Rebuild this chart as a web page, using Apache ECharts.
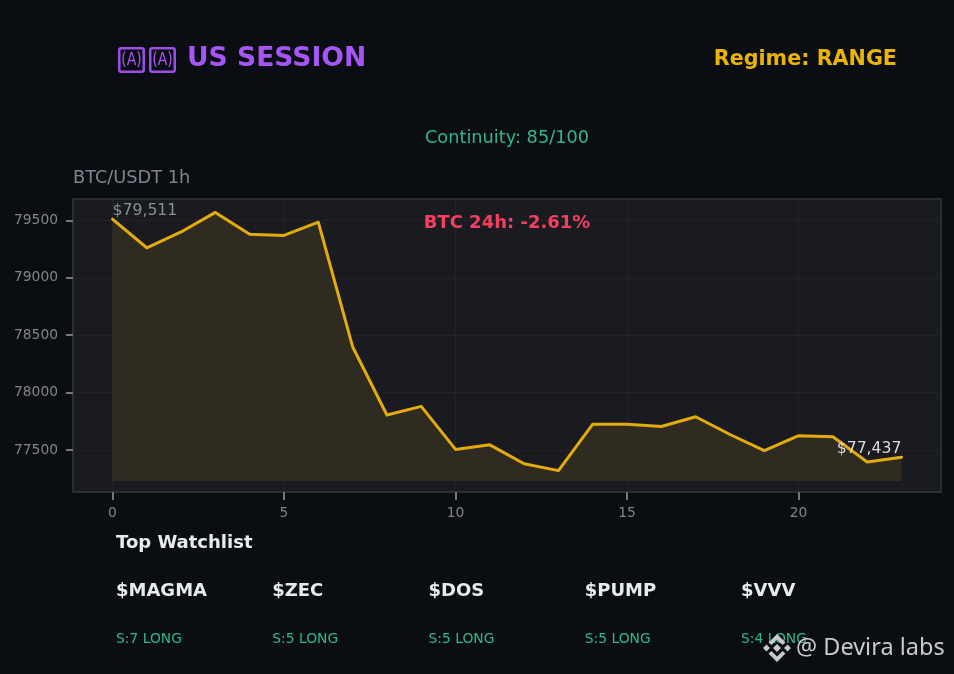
<!DOCTYPE html>
<html><head><meta charset="utf-8">
<style>html,body{margin:0;padding:0;background:#0a0e12}#c{width:954px;height:674px}</style>
<script src="https://cdn.jsdelivr.net/npm/echarts@6/dist/echarts.min.js"></script></head>
<body><div id="c"></div>
<script>
const hours=[0,1,2,3,4,5,6,7,8,9,10,11,12,13,14,15,16,17,18,19,20,21,22,23];
const prices=[79511,79262,79400,79570,79380,79370,79485,78400,77805,77880,77505,77545,77380,77320,77725,77725,77705,77790,77635,77495,77625,77615,77395,77437];
const xTicks=[0,5,10,15,20];
const yTicks=[77500,78000,78500,79000,79500];
const watchSymbols=['$MAGMA','$ZEC','$DOS','$PUMP','$VVV'];
const watchSignals=['S:7 LONG','S:5 LONG','S:5 LONG','S:5 LONG','S:4 LONG'];
const F='"DejaVu Sans"';
const fillBase=77230;
const chart=echarts.init(document.getElementById('c'),null,{renderer:'canvas'});
const money=v=>'$'+v.toLocaleString('en-US');
const txt=(x,y,text,size,fill,weight,extra)=>({type:'text',x,y,z:20,silent:true,
  style:Object.assign({text,x:0,y:0,fill,font:(weight||'normal')+' '+size+'px '+F,verticalAlign:'middle',align:'left'},extra||{})});
const gfx=[
 txt(187,59.5,'US SESSION',26.6,'#a855f7','bold'),
 txt(897,60,'Regime: RANGE',20.7,'#eab308','bold',{align:'right'}),
 txt(507,138,'Continuity: 85/100',17.75,'#2fb98a','normal',{align:'center'}),
 txt(73,178,'BTC/USDT 1h',17.75,'#80858d'),
 txt(507,223,'BTC 24h: -2.61%',18,'#f43f5e','bold',{align:'center'}),
 txt(116,543,'Top Watchlist',18,'#e9eaed','bold')
];
// missing-glyph boxes in front of the title
[118,149].forEach(x=>{
 gfx.push({type:'rect',z:20,silent:true,shape:{x:x+1.25,y:48.25,width:24.5,height:23.5,r:2},style:{fill:'none',stroke:'#9a4fe6',lineWidth:2.5}});
 const a=txt(x+13.5,60.5,'(A)',18,'#a855f7','normal',{align:'center'});
 a.scaleX=0.78;
 gfx.push(a);
});
watchSymbols.forEach((s,i)=>{
 const x=116+i*156.25;
 gfx.push(txt(x,591,s,18,'#e9eaed','bold'));
 gfx.push(txt(x,639,watchSignals[i],13.85,'#2fb98a'));
});
// watermark
const wm='#c6c9ce';
const poly=(pts)=>({type:'polygon',z:30,silent:true,shape:{points:pts},style:{fill:wm}});
const cx=777,cy=648;
const diamond=(x,y,r)=>poly([[x,y-r],[x+r,y],[x,y+r],[x-r,y]]);
gfx.push(diamond(cx,cy,4),diamond(cx-10.5,cy,3.5),diamond(cx+10.5,cy,3.5));
gfx.push(poly([[cx,cy-14],[cx+8.5,cy-5.5],[cx+5.5,cy-3],[cx,cy-8.5],[cx-5.5,cy-3],[cx-8.5,cy-5.5]]));
gfx.push(poly([[cx,cy+14],[cx+8.5,cy+5.5],[cx+5.5,cy+3],[cx,cy+8.5],[cx-5.5,cy+3],[cx-8.5,cy+5.5]]));
gfx.push(txt(796,648,'@ Devira labs',23.5,wm,'normal',{font:'23.5px "Noto Sans"'}));
gfx[gfx.length-1].z=30;

const labelFor=i=>{
 if(i===0) return {show:true,position:[0,-16],align:'left',verticalAlign:'top',formatter:money(prices[0]),color:'#8a8e95',fontSize:15.7,fontFamily:F};
 if(i===hours.length-1) return {show:true,position:[0,-16],align:'right',verticalAlign:'top',formatter:money(prices[i]),color:'#d8dade',fontSize:15.7,fontFamily:F};
 return {show:false};
};
chart.setOption({
 animation:false,
 backgroundColor:'#0a0e12',
 grid:{left:73,top:199,width:868,height:293,show:true,backgroundColor:'#1a1b21',borderColor:'#2a2d36',borderWidth:2},
 xAxis:{type:'value',min:-1.15,max:24.15,
  axisLine:{show:false,onZero:false},
  axisTick:{show:true,customValues:xTicks,length:8,lineStyle:{color:'#74777d',width:2}},
  axisLabel:{customValues:xTicks,color:'#808389',fontSize:13.85,fontFamily:F,margin:14},
  splitLine:{show:true,lineStyle:{color:'#222329',width:1}}},
 yAxis:{type:'value',min:77134,max:79687,
  axisLine:{show:false,onZero:false},
  axisTick:{show:true,customValues:yTicks,length:7,lineStyle:{color:'#74777d',width:2}},
  axisLabel:{customValues:yTicks,color:'#808389',fontSize:13.85,fontFamily:F,margin:15,formatter:v=>String(v)},
  splitLine:{show:true,lineStyle:{color:'#222329',width:1}}},
 series:[{type:'line',showSymbol:true,symbol:'circle',symbolSize:0,smooth:false,clip:false,
  data:hours.map((h,i)=>({value:[h,prices[i]],label:labelFor(i)})),
  lineStyle:{color:'#e3ab0c',width:3,cap:'round',join:'round'},
  areaStyle:{color:'#302b20',opacity:1,origin:fillBase},z:5}],
 graphic:{elements:gfx}
});
</script></body></html>
